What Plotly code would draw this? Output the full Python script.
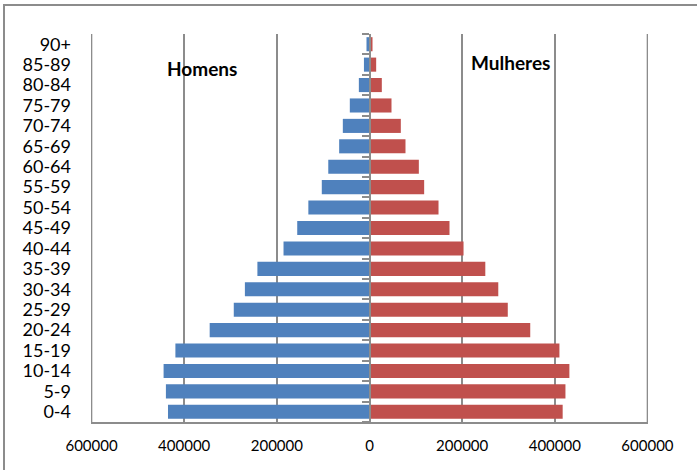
import plotly.graph_objects as go

age_groups = ["0-4", "5-9", "10-14", "15-19", "20-24", "25-29", "30-34", "35-39",
              "40-44", "45-49", "50-54", "55-59", "60-64", "65-69", "70-74",
              "75-79", "80-84", "85-89", "90+"]
homens = [435000, 439500, 444500, 419000, 345000, 293000, 269000, 242000,
          185600, 156000, 132000, 103000, 89000, 65500, 57600, 42500, 23000, 12000, 6500]
mulheres = [417000, 423000, 431500, 410000, 347000, 298500, 278000, 250000,
            203000, 172700, 149000, 118000, 106500, 77700, 67600, 47500, 26600, 14400, 6500]
x_ticks = [-600000, -400000, -200000, 0, 200000, 400000, 600000]
x_tick_labels = [str(abs(v)) for v in x_ticks]

W, H = 697, 470
ML, MR, MT, MB = 91, 49, 34, 48
PW, PH = W - ML - MR, H - MT - MB

def px_x(p):
    return (p - ML) / PW

def px_y(p):
    return (H - MB - p) / PH

FONT = "Lato"
GRID = "#8c8c8c"
BLUE = "#4F81BD"
RED = "#C0504D"

fig = go.Figure()
fig.add_trace(go.Bar(y=age_groups, x=[-v for v in homens], orientation="h",
                     marker=dict(color=BLUE, line=dict(width=0)), name="Homens",
                     hoverinfo="skip"))
fig.add_trace(go.Bar(y=age_groups, x=mulheres, orientation="h",
                     marker=dict(color=RED, line=dict(width=0)), name="Mulheres",
                     hoverinfo="skip"))
# helper trace so the central axis (y2) is drawn
fig.add_trace(go.Scatter(x=[0], y=[0], yaxis="y2", mode="markers",
                         marker=dict(opacity=0, size=1), hoverinfo="skip",
                         showlegend=False))

# edge gridlines (at the outermost ticks)
edge_grid = [dict(type="line", xref="x", yref="paper", x0=v, x1=v, y0=0, y1=1,
                  line=dict(color=GRID, width=1.5), layer="below")
             for v in (x_ticks[0], x_ticks[-1])]

fig.update_layout(
    width=W, height=H,
    margin=dict(l=ML, r=MR, t=MT, b=MB, autoexpand=False),
    paper_bgcolor="white", plot_bgcolor="white",
    barmode="relative", bargap=0.31,
    showlegend=False,
    font=dict(family=FONT, color="black"),
    xaxis=dict(range=[-601200, 601200], tickmode="array", tickvals=x_ticks,
               ticktext=x_tick_labels, automargin=False,
               showgrid=True, gridcolor=GRID, gridwidth=1.5, zeroline=False,
               showline=True, linecolor=GRID, linewidth=1.5, ticks="",
               tickfont=dict(family=FONT, size=15), ticklabelstandoff=9,
               fixedrange=True),
    yaxis=dict(type="category", categoryorder="array", categoryarray=age_groups,
               tickmode="array", tickvals=age_groups, ticktext=age_groups,
               automargin=False,
               range=[-0.5, 18.5], showgrid=False, zeroline=False, showline=False,
               ticks="", tickfont=dict(family=FONT, size=18), ticklabelstandoff=19,
               fixedrange=True),
    yaxis2=dict(overlaying="y", anchor="free", position=0.5, range=[-0.5, 18.5],
                tickmode="array", tickvals=[i - 0.5 for i in range(20)],
                showticklabels=False, automargin=False,
                ticks="outside", ticklen=7, tickcolor=GRID, tickwidth=2,
                showline=True, linecolor=GRID, linewidth=2, showgrid=False,
                zeroline=False, fixedrange=True),
    annotations=[
        dict(text="<b>Homens</b>", xref="paper", yref="paper", x=px_x(202), y=px_y(68),
             showarrow=False, font=dict(family=FONT, size=19, color="black"),
             xanchor="center", yanchor="middle"),
        dict(text="<b>Mulheres</b>", xref="paper", yref="paper", x=px_x(510), y=px_y(63),
             showarrow=False, font=dict(family=FONT, size=19, color="black"),
             xanchor="center", yanchor="middle"),
    ],
    shapes=[
        dict(type="rect", xref="paper", yref="paper",
             x0=px_x(4), y0=px_y(480), x1=px_x(710), y1=px_y(5),
             line=dict(color="#8c8c8c", width=2), fillcolor="rgba(0,0,0,0)", layer="below"),
    ] + edge_grid,
)

fig.write_html("out.html", config={"displayModeBar": False},
               post_script="document.body.style.margin='0';")
